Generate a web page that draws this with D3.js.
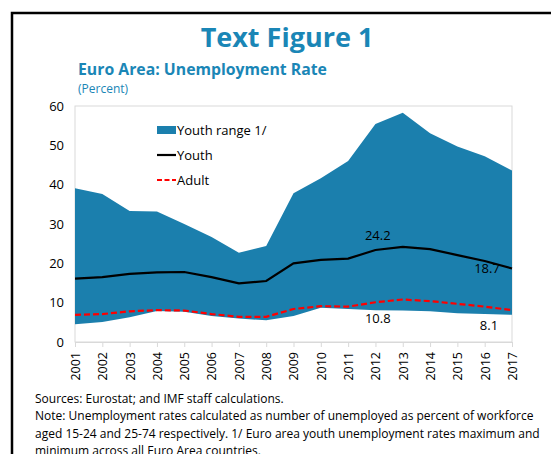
<!DOCTYPE html>
<html><head><meta charset="utf-8">
<script src="https://cdn.jsdelivr.net/npm/d3@7"></script>
<style>html,body{margin:0;padding:0;background:#fff;}svg{display:block;font-family:"Open Sans",sans-serif;}</style>
</head><body><svg id="c" width="551" height="454"></svg>
<script>
const years = [2001,2002,2003,2004,2005,2006,2007,2008,2009,2010,2011,2012,2013,2014,2015,2016,2017];
const youthMax = [39.1,37.6,33.3,33.2,30.0,26.7,22.7,24.4,37.8,41.6,46.0,55.4,58.3,53.1,49.7,47.2,43.6];
const youthMin = [4.5,5.1,6.3,7.9,7.7,6.6,6.0,5.5,6.6,8.7,8.4,8.1,8.0,7.8,7.3,7.1,6.9];
const youth = [16.1,16.5,17.3,17.7,17.8,16.5,14.9,15.5,20.0,20.9,21.2,23.4,24.2,23.6,22.1,20.6,18.7];
const adult = [6.9,7.1,7.8,8.1,8.0,7.1,6.4,6.4,8.4,9.1,9.0,10.1,10.8,10.4,9.7,9.0,8.1];
const yTicks = [0,10,20,30,40,50,60];
const legendLabels = ["Youth range 1/","Youth","Adult"];
const footer = ["Sources: Eurostat; and IMF staff calculations.",
 "Note: Unemployment rates calculated as number of unemployed as percent of workforce",
 "aged 15-24 and 25-74 respectively. 1/ Euro area youth unemployment rates maximum and",
 "minimum across all Euro Area countries."];

const svg = d3.select("#c");
const blue = "#1b7fad", titleBlue = "#1a86b6";
svg.append("rect").attr("width",551).attr("height",454).attr("fill","#fff");
svg.append("path").attr("d","M12,454V13H551").attr("fill","none").attr("stroke","#000").attr("stroke-width",2.5);

svg.append("text").attr("x",287).attr("y",47).attr("text-anchor","middle")
  .attr("font-size",27).attr("font-weight",700).attr("fill",titleBlue).text("Text Figure 1");
svg.append("text").attr("x",78).attr("y",75).attr("font-size",15.8).attr("font-weight",700)
  .attr("fill",titleBlue).text("Euro Area: Unemployment Rate");
svg.append("text").attr("x",78).attr("y",93).attr("font-size",12).attr("fill",titleBlue).text("(Percent)");

const L=75,R=512,T=106,B=342;
const x = d3.scaleLinear().domain([2001,2017]).range([L,R]);
const y = d3.scaleLinear().domain([0,60]).range([B,T]);

svg.append("rect").attr("x",L).attr("y",T).attr("width",R-L).attr("height",B-T)
  .attr("fill","none").attr("stroke","#d9d9d9").attr("stroke-width",1);

const idx = d3.range(years.length);
svg.append("path").datum(idx).attr("fill",blue)
  .attr("d",d3.area().x(i=>x(years[i])).y0(i=>y(youthMin[i])).y1(i=>y(youthMax[i])));
svg.append("path").datum(idx).attr("fill","none").attr("stroke","#000").attr("stroke-width",2.2)
  .attr("d",d3.line().x(i=>x(years[i])).y(i=>y(youth[i])));
svg.append("path").datum(idx).attr("fill","none").attr("stroke","#ff0000").attr("stroke-width",2.2)
  .attr("stroke-dasharray","6,3")
  .attr("d",d3.line().x(i=>x(years[i])).y(i=>y(adult[i])));

// y axis
const ya = svg.append("g").attr("transform",`translate(${L},0)`)
  .call(d3.axisLeft(y).tickValues(yTicks).tickSize(0).tickPadding(11));
ya.select(".domain").remove();
ya.selectAll("text").attr("font-size",13).attr("font-family","'Open Sans',sans-serif").attr("fill","#000");

// x axis
const xa = svg.append("g").attr("transform",`translate(0,${B})`)
  .call(d3.axisBottom(x).tickValues(years).tickFormat(d3.format("d")).tickSize(5).tickPadding(4));
xa.select(".domain").attr("stroke","#d9d9d9");
xa.selectAll(".tick line").attr("stroke","#d9d9d9");
xa.selectAll("text").attr("font-size",12.5).attr("font-family","'Open Sans',sans-serif").attr("fill","#000")
  .attr("transform","rotate(-90)").attr("text-anchor","end").attr("x",-10).attr("y",0).attr("dy","0.35em");

// data labels
const lab = (t,xx,yy)=>svg.append("text").attr("x",xx).attr("y",yy).attr("text-anchor","middle")
  .attr("font-size",13).attr("fill","#000").text(t);
const i13 = years.indexOf(2013), i17 = years.indexOf(2017);
lab(youth[i13].toFixed(1), x(2013)-25, y(youth[i13])-7);
lab(adult[i13].toFixed(1), x(2013)-25, y(adult[i13])+23);
lab(youth[i17].toFixed(1), x(2017)-25, y(youth[i17])+5);
lab(adult[i17].toFixed(1), x(2017)-23, y(adult[i17])+20);

// legend
const lg = svg.append("g");
lg.append("rect").attr("x",157).attr("y",126).attr("width",19).attr("height",8).attr("fill",blue);
lg.append("line").attr("x1",157).attr("x2",176).attr("y1",155).attr("y2",155).attr("stroke","#000").attr("stroke-width",2.2);
lg.append("line").attr("x1",157).attr("x2",176).attr("y1",180).attr("y2",180).attr("stroke","#ff0000").attr("stroke-width",2.2).attr("stroke-dasharray","5,2.5");
legendLabels.forEach((t,i)=>lg.append("text").attr("x",177).attr("y",135+i*25).attr("font-size",13).attr("fill","#000").text(t));

// footer
footer.forEach((t,i)=>svg.append("text").attr("x",35).attr("y",403+i*17.3).attr("font-size",12).attr("fill","#000").text(t));
</script></body></html>
